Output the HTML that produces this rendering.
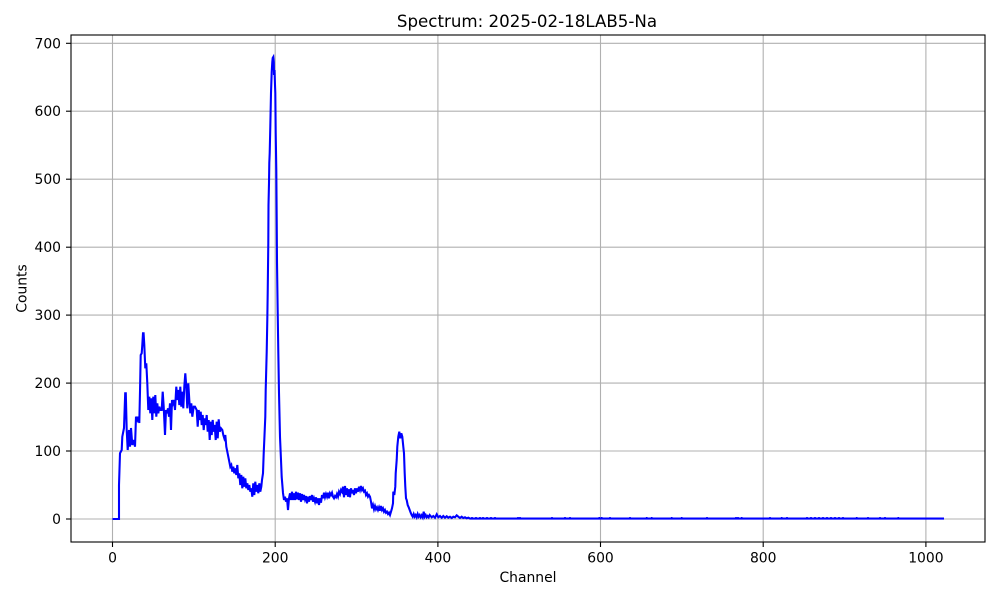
<!DOCTYPE html>
<html>
<head>
<meta charset="utf-8">
<style>
  html,body{margin:0;padding:0;background:#fff;}
  svg{display:block;}
  text{font-family:"DejaVu Sans","Liberation Sans",sans-serif;fill:#000;}
</style>
</head>
<body>
<svg width="1000" height="600" viewBox="0 0 1000 600" xmlns="http://www.w3.org/2000/svg">
  <defs>
    <clipPath id="ax"><rect x="71" y="35" width="914" height="507"/></clipPath>
  </defs>
  <rect x="0" y="0" width="1000" height="600" fill="#fff"/>
  <!-- grid -->
  <g stroke="#b0b0b0" stroke-width="1.1" fill="none">
    <line x1="112.5" y1="35" x2="112.5" y2="542"/>
    <line x1="275.2" y1="35" x2="275.2" y2="542"/>
    <line x1="437.9" y1="35" x2="437.9" y2="542"/>
    <line x1="600.5" y1="35" x2="600.5" y2="542"/>
    <line x1="763.2" y1="35" x2="763.2" y2="542"/>
    <line x1="925.9" y1="35" x2="925.9" y2="542"/>
    <line x1="71" y1="519" x2="985" y2="519"/>
    <line x1="71" y1="451" x2="985" y2="451"/>
    <line x1="71" y1="383.1" x2="985" y2="383.1"/>
    <line x1="71" y1="315.1" x2="985" y2="315.1"/>
    <line x1="71" y1="247.2" x2="985" y2="247.2"/>
    <line x1="71" y1="179.2" x2="985" y2="179.2"/>
    <line x1="71" y1="111.2" x2="985" y2="111.2"/>
    <line x1="71" y1="43.3" x2="985" y2="43.3"/>
  </g>
  <!-- data -->
  <g clip-path="url(#ax)">
    <polyline fill="none" stroke="#0000ff" stroke-width="2.08" stroke-linejoin="miter" points="
112.5,519 119,519 119,485 120,453.3 121.7,450 122.3,436.7 124,428 125.2,393.3 125.8,393.3 126.7,430 127.7,450 129,430 130,446.7 131,428 132.3,445 133.7,440 135,446.7 136,416.7 137.3,420 138.3,416.7 139.3,423 140,391.7 140.7,355 141.7,353.3 142.3,345 143,333.3 143.6,333.3 144.3,345 145.3,368.3 146.3,363.3 147.3,383.3 148.3,410 149.3,396.7 150.3,413.3 151.3,398.3 152.3,420 153.3,396.7 154.3,413.3 155.3,395 156.3,416.7 157.3,403.3 158.3,413.3 159.3,406.7 160.3,410 161.7,410 162.7,391.7 163.7,406.7 165,435 166,410 167,413.3 168,408.3 169,416.7 170,403.3 171,430 172,400 173,403.3 174,400 175,410 176.3,386.7 177.3,400 178.3,390 179.3,405 180.3,386.7 181.3,406.7 182.3,391.7 183.3,408.3 184.3,386.7 185.3,373.3 186.3,386.7 187.3,408.3 188.3,383.3 189.3,400 190.3,413.3 191.3,403.3 192.3,416.7 193.7,406.7 195,406.7 196.7,410 197.7,426.7 198.7,410 199.7,420 200.7,411.7 201.7,425 202.7,415 203.7,430 204.7,418.3 205.7,425 206.7,415 207.7,431.7 208.7,420 209.7,440 210.7,421.7 211.7,435 212.7,420 213.7,431.7 214.7,425 215.7,440 216.7,421.7 217.7,438.3 218.7,419.3 219.7,431.7 221,428.3 222.3,430 223.3,435 224.3,438.3 225.3,435 226.3,446.7 227.3,451.7 228.3,456.7 229.3,461.7 230.3,466.7 231.3,465 232.3,471.7 233.3,466.7 234.3,473.3 235.3,468.3 236.3,475 237.3,465 238.3,478.3 239.3,473.3 240.3,485 241.3,475 242.3,488.3 243.3,476.7 244.3,486.7 245.3,478.3 246.3,488.3 247.3,483.3 248.3,490 249.3,485 250.3,491.7 251.3,488.3 252.3,496.7 253.3,483.3 254.3,495 255.3,481.7 256.3,491.7 257.3,485 258.3,493.3 259.3,483.3 260.3,491.7 261.3,486.7 262,480 263,473.3 263.7,453.3 264.3,440 265.3,416.7 265.7,390 266.7,352 267.3,320 267.7,293 268.3,243 268.5,205 269,183 269.3,163 269.7,153 270.3,127 271,93 271.7,72 272.3,62 272.7,58 273.3,57 273.8,62 274,75 274.5,70 275,85 275.3,93 275.7,133 276.3,170 276.7,220 277,262 277.7,312 278.3,352 279,393 280,437 281,460 281.7,477 283,493 284,500 285,496.7 286,501.7 287,498.3 288,510 289,498.3 290,493.3 291,500 292,491.7 293,500 294,493.3 295,500 296,491.7 297,499.3 298,492.7 299,500 300,493.3 301,501.7 302,494 303,500 304,495 305,499.3 306,496 307,503.3 308,496.7 309,501.7 310,496 311,500 312,495 313,501.7 314,498.3 315,501.7 316,497.3 317,503.3 318,498.3 319,505 320,498.3 321,502.7 322,495 323,498.3 324,492.7 325,497.3 326,494 327,496.7 328,492.7 329,498.3 330,493.3 331,495 332,492.7 333,496.7 334,498.3 335,496 336,497.3 337,494 338,496.7 339,491.7 340,494 341,490 342,491.7 343,486.7 344,497.3 345,486 346,495 347,488.3 348,496.7 349,489.3 350,497.3 351,488.3 352,493.3 353,490 354,495 355,488.3 356,493.3 357,488.3 358,491.7 359,486.7 360,490 361,486 362,490 363,488.3 364,491.7 365,490.7 366,495 367,493.3 368,496.7 369,495 370,496.7 371,501.7 372,508.3 373,505 374,509.3 375,506 376,509.3 377,507.3 378,510 379,507.3 380,510.7 381,506 382,510 383,508.3 384,511.7 385,510 386,512.7 387,511.7 388,514 389,512.7 390,515 391,511.7 392,508.3 393,503.3 393.3,491.7 394.3,495 395.3,486.7 395.7,473.3 396.7,460 397.3,446.7 398.3,436.7 399.3,431.7 400.3,438.3 401.3,433.3 402.3,436.7 403.3,446.7 404,453.3 404.7,473.3 405.3,486.7 406,498.3 406.7,500 407.7,505 408.7,507.3 409.7,510 410.7,512.7 411.7,515 412.7,516.7 413.7,514 414.7,516.7 415.7,515 416.7,517.3 417.7,514 418.7,516.7 419.7,515 420.7,517.3 421.7,515.3 422.7,517.3 423.7,511.7 424.7,516.7 425.7,515 426.7,517.3 427.7,516 428.7,517.3 429.7,515 431.7,517.3 433.3,516 435,517.7 436.7,514.3 438.3,517.3 440,516 441.7,517.7 443.3,516 445,517.7 446.7,516.3 448.3,517.7 450,516.7 451.7,518 453.3,516.7 455,517.3 456.7,515.3 458.3,516.7 460,518 461.7,516.7 463.3,518 465,517.3 466.7,518.3 468.3,517.7 470,518.6 944,518.6"/>
    <path fill="none" stroke="#0000ff" stroke-width="1.6" d="
M472,518.6v-1.6 M476,518.6v-1.6 M480,518.6v-1.6 M483,518.6v-1.6 M487,518.6v-1.6 M491,518.6v-1.6 M495,518.6v-1.6
M518,518.6v-1.6 M520,518.6v-1.6 M552,518.6v-1.6 M565,518.6v-1.6 M570,518.6v-1.6
M599.3,518.6v-1.6 M601.7,518.6v-1.6 M610,518.6v-1.6 M630,518.6v-1.6 M646.7,518.6v-1.6 M651.7,518.6v-1.6
M671.7,518.6v-1.6 M681.7,518.6v-1.6 M707,518.6v-1.6 M736,518.6v-1.6 M738,518.6v-1.6 M741.7,518.6v-1.6
M770,518.6v-1.6 M781.7,518.6v-1.6 M787,518.6v-1.6 M807,518.6v-1.6 M811,518.6v-1.6 M815,518.6v-1.6 M819,518.6v-1.6
M823,518.6v-1.6 M827,518.6v-1.6 M831,518.6v-1.6 M835,518.6v-1.6 M839,518.6v-1.6 M843,518.6v-1.6
M856.7,518.6v-1.6 M868,518.6v-1.6 M880,518.6v-1.6 M885,518.6v-1.6 M898.3,518.6v-1.6"/>
  </g>
  <!-- spines -->
  <rect x="71" y="35" width="914" height="507" fill="none" stroke="#000" stroke-width="1.1"/>
  <!-- ticks -->
  <g stroke="#000" stroke-width="1.1">
    <line x1="112.5" y1="542" x2="112.5" y2="547"/>
    <line x1="275.2" y1="542" x2="275.2" y2="547"/>
    <line x1="437.9" y1="542" x2="437.9" y2="547"/>
    <line x1="600.5" y1="542" x2="600.5" y2="547"/>
    <line x1="763.2" y1="542" x2="763.2" y2="547"/>
    <line x1="925.9" y1="542" x2="925.9" y2="547"/>
    <line x1="66" y1="519" x2="71" y2="519"/>
    <line x1="66" y1="451" x2="71" y2="451"/>
    <line x1="66" y1="383.1" x2="71" y2="383.1"/>
    <line x1="66" y1="315.1" x2="71" y2="315.1"/>
    <line x1="66" y1="247.2" x2="71" y2="247.2"/>
    <line x1="66" y1="179.2" x2="71" y2="179.2"/>
    <line x1="66" y1="111.2" x2="71" y2="111.2"/>
    <line x1="66" y1="43.3" x2="71" y2="43.3"/>
  </g>
  <!-- x tick labels -->
  <g font-size="13.9" text-anchor="middle">
    <text x="112.5" y="562.5">0</text>
    <text x="275.2" y="562.5">200</text>
    <text x="437.9" y="562.5">400</text>
    <text x="600.5" y="562.5">600</text>
    <text x="763.2" y="562.5">800</text>
    <text x="925.9" y="562.5">1000</text>
  </g>
  <!-- y tick labels -->
  <g font-size="13.9" text-anchor="end">
    <text x="61" y="524">0</text>
    <text x="61" y="456">100</text>
    <text x="61" y="388.1">200</text>
    <text x="61" y="320.1">300</text>
    <text x="61" y="252.2">400</text>
    <text x="61" y="184.2">500</text>
    <text x="61" y="116.2">600</text>
    <text x="61" y="48.3">700</text>
  </g>
  <!-- labels -->
  <text x="528" y="582" font-size="13.9" text-anchor="middle">Channel</text>
  <text x="0" y="0" font-size="13.9" text-anchor="middle" transform="translate(26.5,288.5) rotate(-90)">Counts</text>
  <text x="527" y="27" font-size="16.67" text-anchor="middle">Spectrum: 2025-02-18LAB5-Na</text>
</svg>
</body>
</html>
